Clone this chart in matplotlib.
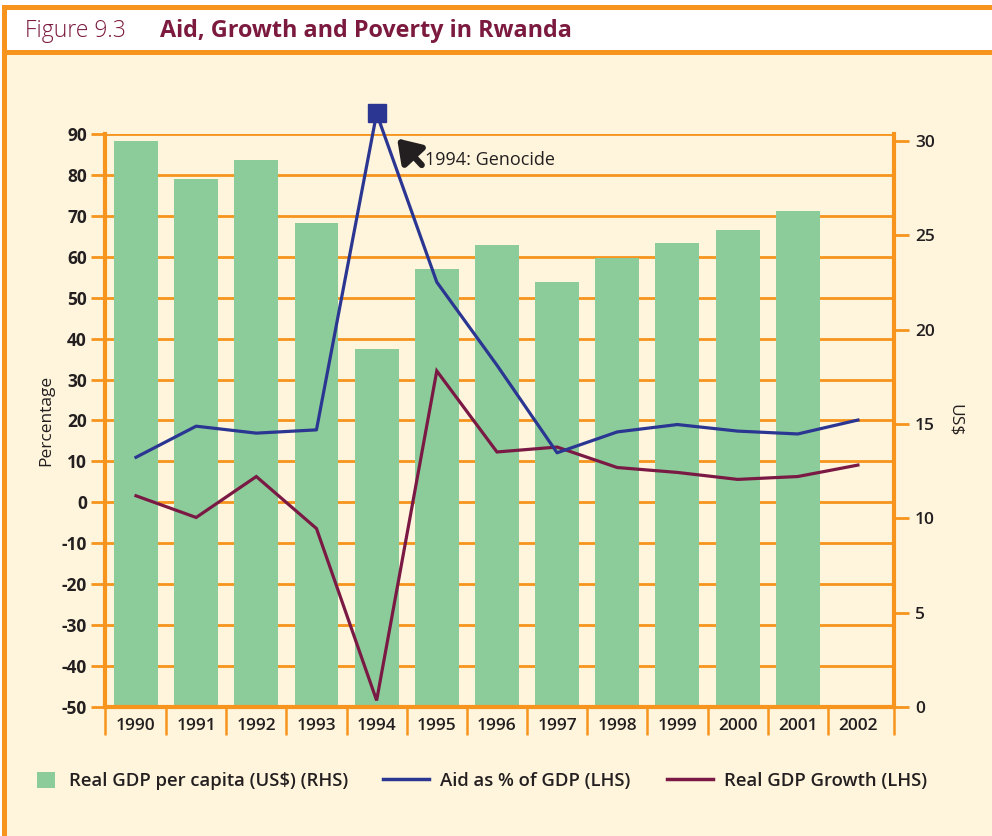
import matplotlib
matplotlib.use("Agg")
import matplotlib.pyplot as plt
from matplotlib.patches import Rectangle, Patch
from matplotlib.lines import Line2D
from matplotlib.transforms import blended_transform_factory

# ---- data ----
years = ["1990", "1991", "1992", "1993", "1994", "1995", "1996",
         "1997", "1998", "1999", "2000", "2001", "2002"]
gdp_per_capita = [30.0, 28.0, 29.0, 25.65, 19.0, 23.2, 24.5,
                  22.5, 23.8, 24.6, 25.3, 26.3, None]          # US$ (RHS)
aid_pct_gdp = [11.0, 18.6, 16.9, 17.7, 95.0, 53.8, 33.5,
               12.1, 17.2, 19.0, 17.4, 16.7, 20.1]             # % (LHS)
gdp_growth = [1.6, -3.7, 6.3, -6.4, -48.4, 32.1, 12.3,
              13.5, 8.5, 7.3, 5.6, 6.3, 9.1]                   # % (LHS)
left_ticks = list(range(-50, 91, 10))
right_ticks = [0, 5, 10, 15, 20, 25, 30]

# ---- style ----
ORANGE = "#F7941D"
CREAM = "#FFF5DC"
GREEN = "#8CCC9B"
BLUE = "#2B3692"
MAROON = "#7A1A44"
TITLE = "#7B1A3E"
INK = "#231F20"
FONT = ["Open Sans", "DejaVu Sans"]
plt.rcParams["font.family"] = FONT
plt.rcParams["axes.unicode_minus"] = False

W, H = 992, 836
fig = plt.figure(figsize=(W / 100, H / 100), dpi=100)
fig.patch.set_facecolor(CREAM)


def px_rect(x0, y0, x1, y1, color):
    fig.add_artist(Rectangle((x0 / W, 1 - y1 / H), (x1 - x0) / W, (y1 - y0) / H,
                             transform=fig.transFigure, facecolor=color,
                             edgecolor="none", zorder=0))


# frame and title band
px_rect(0, 0, W, 5, "white")
px_rect(0, 0, 2, H, "white")
px_rect(7, 10, W, 50, "white")
px_rect(2, 5, W, 10, ORANGE)
px_rect(2, 50, W, 55, ORANGE)
px_rect(2, 5, 7, H, ORANGE)

fig.text(25 / W, 1 - 31 / H, "Figure 9.3", color=TITLE, fontsize=16.5,
         va="center", ha="left", fontweight="light")
fig.text(160 / W, 1 - 31 / H, "Aid, Growth and Poverty in Rwanda", color=TITLE,
         fontsize=16.8, va="center", ha="left", fontweight="bold")

# ---- axes ----
ax_left, ax_right, ax_top, ax_bot = 105, 894, 133.9, 707
ax = fig.add_axes([ax_left / W, 1 - ax_bot / H, (ax_right - ax_left) / W,
                   (ax_bot - ax_top) / H])
axr = ax.twinx()
ax.set_zorder(2)
axr.set_zorder(1)
ax.patch.set_visible(False)
axr.patch.set_visible(False)

x = list(range(len(years)))
ax.set_xlim(-0.515, 12.6)
ax.set_ylim(-50, 90)
axr.set_ylim(0, 30 * (707 - 133.9) / (707 - 141))

# horizontal grid at left-axis ticks, behind bars
grid_tr = blended_transform_factory(axr.transAxes, ax.transData)
axr.hlines(left_ticks, 0, 1, transform=grid_tr, colors=ORANGE, lw=2.0, zorder=0.5)

# bars (RHS)
bx = [i for i, v in zip(x, gdp_per_capita) if v is not None]
bv = [v for v in gdp_per_capita if v is not None]
axr.bar(bx, bv, width=0.73, color=GREEN, zorder=1)

# lines (LHS)
ax.plot(x, gdp_growth, color=MAROON, lw=2.3, zorder=3, solid_joinstyle="miter")
ax.plot(x, aid_pct_gdp, color=BLUE, lw=2.3, zorder=4, marker="s",
        markevery=[4], markersize=13.5, clip_on=False)

# annotation
ax.annotate("", xy=(4.34, 88.9), xytext=(4.75, 82.4),
            arrowprops=dict(arrowstyle="-|>,head_width=0.5,head_length=0.75",
                            lw=4.5, color=INK, shrinkA=0, shrinkB=0,
                            mutation_scale=18), zorder=5)
ax.text(4.8, 83.7, "1994: Genocide", fontsize=13, color=INK,
        ha="left", va="center", zorder=5)

# spines
ax.spines["top"].set_visible(False)
axr.spines["top"].set_visible(False)
for s in ("left", "bottom"):
    ax.spines[s].set_color(ORANGE)
    ax.spines[s].set_linewidth(3)
ax.spines["right"].set_visible(False)
axr.spines["left"].set_visible(False)
axr.spines["bottom"].set_visible(False)
axr.spines["right"].set_color(ORANGE)
axr.spines["right"].set_linewidth(3)

# left y axis
ax.set_yticks(left_ticks)
ax.tick_params(axis="y", which="major", direction="out", length=10, width=2,
               color=ORANGE, labelsize=12.5, labelcolor=INK, pad=3)
for lbl in ax.get_yticklabels():
    lbl.set_fontweight("bold")
ax.set_ylabel("Percentage", fontsize=12.5, color=INK, labelpad=5)

# right y axis
axr.set_yticks(right_ticks)
axr.tick_params(axis="y", which="major", direction="out", length=11, width=2,
                color=ORANGE, labelsize=12.5, labelcolor=INK, pad=4)
for lbl in axr.get_yticklabels():
    lbl.set_fontweight("semibold")
axr.set_ylabel("US$", fontsize=12.5, color=INK, rotation=270, labelpad=20)

# x axis: separators between years, labels centred
sep = [-0.515] + [i + 0.5 for i in range(12)] + [12.6]
ax.set_xticks(sep)
ax.set_xticklabels([])
ax.set_xticks(x, minor=True)
ax.set_xticklabels(years, minor=True)
ax.tick_params(axis="x", which="major", direction="out", length=20, width=1.8,
               color=ORANGE)
ax.tick_params(axis="x", which="minor", length=0, labelsize=12.5,
               labelcolor=INK, pad=8)
for lbl in ax.get_xticklabels(minor=True):
    lbl.set_fontweight("semibold")

# legend
items = [
    (Patch(facecolor=GREEN, edgecolor="none"), "Real GDP per capita (US$) (RHS)", 37),
    (Line2D([], [], color=BLUE, lw=2.5), "Aid as % of GDP (LHS)", 383),
    (Line2D([], [], color=MAROON, lw=2.5), "Real GDP Growth (LHS)", 667),
]
for handle, label, xpx in items:
    is_line = isinstance(handle, Line2D)
    lg = fig.legend([handle], [label], loc="center left",
                    bbox_to_anchor=(xpx / W, 1 - 781 / H), frameon=False,
                    borderpad=0, borderaxespad=0,
                    handlelength=2.5 if is_line else 1.0,
                    handleheight=1.0, handletextpad=0.6 if is_line else 0.75,
                    prop=dict(family=FONT, size=13.3, weight="semibold"))
    for t in lg.get_texts():
        t.set_color(INK)

fig.savefig("out.png", dpi=100, facecolor=fig.get_facecolor())
